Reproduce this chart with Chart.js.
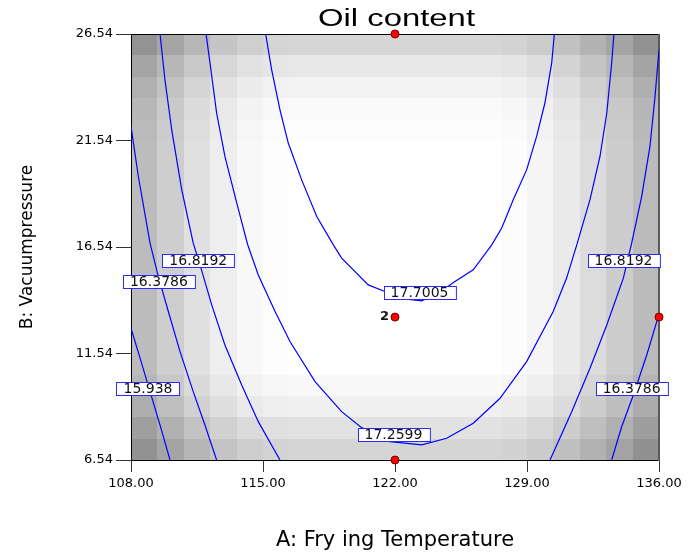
<!DOCTYPE html>
<html><head><meta charset="utf-8">
<script src="https://cdn.jsdelivr.net/npm/chart.js@4.4.1/dist/chart.umd.min.js"></script>
<style>html,body{margin:0;padding:0;background:#fff}canvas{display:block}</style>
</head><body>
<canvas id="c" width="693" height="557"></canvas>
<script>
// ---- axis ticks ----
const xTicks = [108, 115, 122, 129, 136];
const yTicks = [6.54, 11.54, 16.54, 21.54, 26.54];

// ---- background shading profiles (gray level) ----
const colShade = [188, 206, 224, 238, 248, 253, 255, 255, 255, 255, 255, 255, 255, 255, 252, 245, 234, 220, 205, 187];
const rowShade = [214, 232, 243, 250, 253, 255, 255, 255, 255, 255, 255, 255, 255, 255, 255, 255, 249, 240, 226, 213];

// ---- contour lines (A: Frying Temperature, B: Vacuum pressure) ----
const c15938A = [108.0, 108.48, 109.01, 109.54, 110.07];
const c15938B = [12.73, 11.32, 9.75, 8.18, 6.54];

const c16379LA = [108.0, 108.39, 109.01, 109.45, 109.98, 110.60, 111.30, 111.92, 112.54];
const c16379LB = [22.20, 19.85, 16.72, 15.15, 13.51, 11.63, 9.75, 8.18, 6.54];

const c16819LA = [109.54, 109.80, 110.16, 110.69, 111.30, 111.66, 112.28, 112.98, 113.87, 114.75, 115.90];
const c16819LB = [26.54, 24.39, 22.04, 19.23, 16.72, 15.70, 13.82, 11.94, 10.06, 8.34, 6.54];

const c17260A = [111.98, 112.19, 112.54, 112.98, 113.61, 114.18, 114.75, 115.64, 116.43, 117.76, 119.17, 120.23, 121.73, 123.42, 124.74, 126.15, 127.57, 128.98, 130.39, 131.10, 131.64, 132.34, 132.87, 133.23, 133.49, 133.61];
const c17260B = [26.54, 25.18, 22.83, 20.79, 18.60, 16.67, 15.23, 13.51, 12.10, 10.22, 8.81, 8.06, 7.40, 7.25, 7.56, 8.27, 9.44, 11.16, 13.51, 15.08, 16.64, 18.76, 20.79, 22.83, 25.18, 26.54];

const c17701A = [115.14, 115.46, 115.90, 116.34, 117.05, 117.85, 118.73, 119.17, 120.58, 121.47, 122.62, 123.42, 124.39, 125.18, 126.15, 127.13, 127.66, 128.27, 128.98, 129.51, 129.95, 130.31, 130.45];
const c17701B = [26.54, 24.86, 22.98, 21.42, 19.69, 17.97, 16.64, 16.02, 14.76, 14.45, 14.09, 14.01, 14.43, 14.92, 15.47, 16.64, 17.43, 18.76, 20.16, 21.73, 23.30, 25.18, 26.54];

const c16819RA = [136.0, 135.79, 135.52, 135.08, 134.55, 134.11, 133.23, 132.34, 131.37, 130.22];
const c16819RB = [25.80, 23.61, 21.26, 18.91, 16.72, 15.08, 12.88, 10.85, 8.81, 6.54];

const c16379RA = [135.96, 135.35, 134.64, 134.02, 133.49];
const c16379RB = [13.27, 11.47, 9.59, 8.10, 6.54];

// ---- contour labels ----
const labelText = ['17.7005', '17.2599', '16.8192', '16.3786', '15.938', '16.8192', '16.3786'];
const labelA = [123.30, 121.92, 111.57, 109.48, 108.90, 134.12, 134.55];
const labelB = [14.39, 7.76, 15.90, 14.91, 9.91, 15.90, 9.92];

// ---- design points ----
const ptA = [122, 122, 136, 122];
const ptB = [26.54, 6.54, 13.25, 13.25];
const ptLabel = ['', '', '', '2'];

const toXY = (A, B) => A.map((a, i) => ({x: a, y: B[i]}));
const lineDs = (A, B) => ({
  data: toXY(A, B), showLine: true, borderColor: '#0000ff', borderWidth: 1.2,
  pointRadius: 0, pointHoverRadius: 0, fill: false, tension: 0, order: 2
});

const shadePlugin = {
  id: 'shade',
  beforeDatasetsDraw(chart) {
    const {ctx, scales: {x, y}, chartArea: ca} = chart;
    const a0 = xTicks[0], a1 = xTicks[xTicks.length - 1];
    const b0 = yTicks[0], b1 = yTicks[yTicks.length - 1];
    const nC = colShade.length, nR = rowShade.length;
    ctx.save();
    for (let j = 0; j < nR; j++) {
      const yt = Math.round(y.getPixelForValue(b1 - (b1 - b0) * j / nR));
      const yb = Math.round(y.getPixelForValue(b1 - (b1 - b0) * (j + 1) / nR));
      for (let i = 0; i < nC; i++) {
        const xl = Math.round(x.getPixelForValue(a0 + (a1 - a0) * i / nC));
        const xr = Math.round(x.getPixelForValue(a0 + (a1 - a0) * (i + 1) / nC));
        const g = Math.max(0, Math.min(255, Math.round(colShade[i] + rowShade[j] - 255)));
        ctx.fillStyle = `rgb(${g},${g},${g})`;
        ctx.fillRect(xl, yt, xr - xl, yb - yt);
      }
    }
    // frame
    ctx.lineWidth = 1;
    ctx.strokeStyle = '#000';
    ctx.beginPath();
    ctx.moveTo(ca.left + 0.5, ca.bottom + 0.5);
    ctx.lineTo(ca.left + 0.5, ca.top + 0.5);
    ctx.lineTo(ca.right, ca.top + 0.5);
    ctx.moveTo(ca.left, ca.bottom + 0.5);
    ctx.lineTo(ca.right, ca.bottom + 0.5);
    ctx.stroke();
    ctx.strokeStyle = '#5a5a5a';
    ctx.lineWidth = 2;
    ctx.beginPath();
    ctx.moveTo(ca.right, ca.top);
    ctx.lineTo(ca.right, ca.bottom + 1);
    ctx.stroke();
    ctx.restore();
  },
  afterDatasetsDraw(chart) {
    const {ctx, scales: {x, y}} = chart;
    ctx.save();
    ctx.font = '14px "DejaVu Sans"';
    ctx.textAlign = 'center';
    ctx.textBaseline = 'middle';
    for (let k = 0; k < labelText.length; k++) {
      const px = x.getPixelForValue(labelA[k]);
      const py = y.getPixelForValue(labelB[k]);
      const w = ctx.measureText(labelText[k]).width + 14;
      const h = 13;
      const l = Math.round(px - w / 2) + 0.5, t = Math.round(py - h / 2) + 0.5;
      ctx.fillStyle = '#fff';
      ctx.fillRect(l, t, w, h);
      ctx.strokeStyle = '#2a2aff';
      ctx.lineWidth = 1;
      ctx.strokeRect(l, t, w, h);
      ctx.fillStyle = '#111';
      ctx.fillText(labelText[k], px, py + 1);
    }
    ctx.font = 'bold 13px "DejaVu Sans"';
    ctx.textAlign = 'right';
    for (let k = 0; k < ptLabel.length; k++) {
      if (!ptLabel[k]) continue;
      ctx.fillText(ptLabel[k], x.getPixelForValue(ptA[k]) - 6, y.getPixelForValue(ptB[k]));
    }
    ctx.restore();
  },
  afterDraw(chart) {
    const {ctx, chartArea: ca} = chart;
    ctx.save();
    ctx.font = '23px "Liberation Sans", Arial, sans-serif';
    ctx.textAlign = 'center';
    ctx.textBaseline = 'middle';
    ctx.fillStyle = '#000';
    const t = 'Oil content';
    const w = ctx.measureText(t).width;
    const sx = 157 / w;
    ctx.translate((ca.left + ca.right) / 2 + 1.5, 19.5);
    ctx.scale(sx, 1);
    ctx.fillText(t, 0, 0);
    ctx.restore();
  }
};

new Chart(document.getElementById('c'), {
  type: 'scatter',
  data: {
    datasets: [
      lineDs(c15938A, c15938B),
      lineDs(c16379LA, c16379LB),
      lineDs(c16819LA, c16819LB),
      lineDs(c17260A, c17260B),
      lineDs(c17701A, c17701B),
      lineDs(c16819RA, c16819RB),
      lineDs(c16379RA, c16379RB),
      {
        data: toXY(ptA, ptB), showLine: false, pointRadius: 4, pointHoverRadius: 4,
        backgroundColor: '#ff0000', borderColor: '#7a0000', borderWidth: 1, clip: false, order: 1
      }
    ]
  },
  options: {
    responsive: false,
    animation: false,
    devicePixelRatio: 1,
    layout: {padding: {top: 34, right: 34, left: 0, bottom: 0}},
    plugins: {legend: {display: false}, tooltip: {enabled: false}, title: {display: false}},
    scales: {
      x: {
        type: 'linear', min: xTicks[0], max: xTicks[xTicks.length - 1],
        afterBuildTicks: s => { s.ticks = xTicks.map(v => ({value: v})); },
        afterFit: s => { s.height = 97; },
        ticks: {color: '#000', padding: 4, font: {family: 'DejaVu Sans', size: 13},
          callback: v => Number(v).toFixed(2), maxRotation: 0, autoSkip: false},
        grid: {drawOnChartArea: false, tickLength: 12, color: '#000', tickColor: '#333'},
        border: {display: false},
        title: {display: true, text: 'A: Fry ing Temperature', color: '#000',
          font: {family: 'DejaVu Sans', size: 21}, padding: {top: 0, bottom: 4}}
      },
      y: {
        type: 'linear', min: yTicks[0], max: yTicks[yTicks.length - 1],
        afterBuildTicks: s => { s.ticks = yTicks.map(v => ({value: v})); },
        afterFit: s => { s.width = 131; },
        ticks: {color: '#000', padding: 3, font: {family: 'DejaVu Sans', size: 13},
          callback: v => Number(v).toFixed(2), autoSkip: false},
        grid: {drawOnChartArea: false, tickLength: 15, color: '#000', tickColor: '#333'},
        border: {display: false},
        title: {display: true, text: 'B: Vacuumpressure', color: '#000',
          font: {family: 'DejaVu Sans', size: 17}, padding: {top: 17, bottom: 0}}
      }
    }
  },
  plugins: [shadePlugin]
});
</script>
</body></html>
